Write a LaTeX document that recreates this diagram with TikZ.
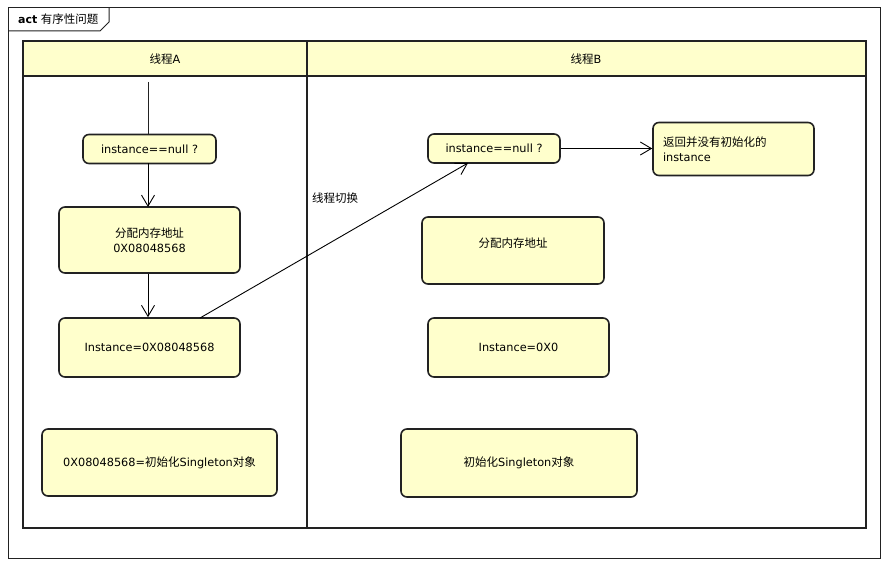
\documentclass[tikz,border=0pt]{standalone}
\usepackage{fontspec}
\setmainfont{DejaVu Sans}
\newfontfamily\cjk{Noto Sans CJK SC}
\usetikzlibrary{arrows.meta}
\definecolor{boxfill}{HTML}{FFFFCC}
\definecolor{edgecol}{HTML}{222222}
\tikzset{
  actbox/.style={draw=edgecol, fill=boxfill, line width=1.6pt, rounded corners=6pt, inner sep=0pt, font=\fontsize{11.3}{14.5}\selectfont},
  flow/.style={draw=black, line width=0.9pt, -{Straight Barb[length=11pt,width=13pt,line width=0.9pt]}},
  lane/.style={draw=edgecol, line width=2pt},
  lbl/.style={font=\fontsize{11.3}{14.5}\selectfont, inner sep=0pt}
}
\newcommand{\zh}[1]{{\cjk\fontsize{11.5}{14.5}\selectfont #1}}
\begin{document}
\begin{tikzpicture}[x=1pt,y=-1pt]
\useasboundingbox (0,0) rectangle (892,567);
\fill[white] (0,0) rectangle (892,567);
% outer frame
\draw[edgecol, line width=1pt] (8,8) rectangle (880,558);
\draw[edgecol, line width=1pt] (8,31) -- (100,31) -- (109,22) -- (109,8);
\node[anchor=west, inner sep=0pt, font=\fontsize{11}{13}\selectfont] (title) at (18,19.5) {\textbf{act} {\cjk\fontsize{11.5}{13}\selectfont 有序性问题}};
% swimlanes
\fill[boxfill] (23,41) rectangle (866,76);
\draw[lane] (23,41) rectangle (866,528);
\draw[lane] (23,76) -- (866,76);
\draw[lane] (307,41) -- (307,528);
\node[lbl] (laneA) at (165,59) {\zh{线程}A};
\node[lbl] (laneB) at (586,59) {\zh{线程}B};
% lane A nodes
\node[actbox, minimum width=133pt, minimum height=29pt] (a1) at (149.5,149) {instance==null ?};
\node[actbox, minimum width=181pt, minimum height=66pt, align=center] (a2) at (149.5,240) {\zh{分配内存地址}\\0X08048568};
\node[actbox, minimum width=181pt, minimum height=59pt] (a3) at (149.5,347.5) {Instance=0X08048568};
\node[actbox, minimum width=235pt, minimum height=67pt] (a4) at (159.5,462.5) {0X08048568=\zh{初始化}Singleton\zh{对象}};
% lane B nodes
\node[actbox, minimum width=132pt, minimum height=29pt] (b1) at (494,148.5) {instance==null ?};
\node[actbox, minimum width=161pt, minimum height=53pt, text width=141pt, align=left] (b2) at (733.5,149) {\zh{返回并没有初始化的}\\instance\\[8pt]};
\node[actbox, minimum width=182pt, minimum height=67pt] (b3) at (513,250.5) {};
\node[lbl] (b3t) at (513,243) {\zh{分配内存地址}};
\node[actbox, minimum width=181pt, minimum height=59pt] (b4) at (518.5,347.5) {Instance=0X0};
\node[actbox, minimum width=236pt, minimum height=68pt] (b5) at (519,463) {\zh{初始化}Singleton\zh{对象}};
% connectors
\coordinate (start) at (148,82);
\draw[edgecol, line width=0.9pt] (start) -- (start |- a1.north);
\draw[flow] (148,163.5) -- (148,207);
\draw[flow] (a2.south -| 148,0) -- (a3.north -| 148,0);
\draw[flow] (200,318) -- (468,163);
\draw[flow] (b1.east) -- (b2.west |- b1.east);
\node[lbl, anchor=west] (switch) at (312,198) {\zh{线程切换}};
\end{tikzpicture}
\end{document}
